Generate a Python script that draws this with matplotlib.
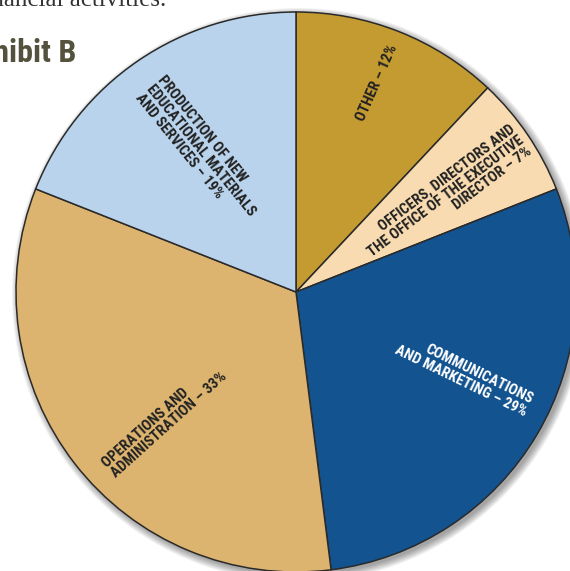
import matplotlib
matplotlib.use("Agg")
import matplotlib.pyplot as plt
import numpy as np
from matplotlib.patches import Circle

# ---- data ----
categories = ["OTHER", "OFFICERS, DIRECTORS AND THE OFFICE OF THE EXECUTIVE DIRECTOR",
              "COMMUNICATIONS AND MARKETING", "OPERATIONS AND ADMINISTRATION",
              "PRODUCTION OF NEW EDUCATIONAL MATERIALS AND SERVICES"]
values = [12, 7, 29, 33, 19]
labels = ["OTHER – 12%",
          "OFFICERS, DIRECTORS AND\nTHE OFFICE OF THE EXECUTIVE\nDIRECTOR – 7%",
          "COMMUNICATIONS\nAND MARKETING – 29%",
          "OPERATIONS AND\nADMINISTRATION – 33%",
          "PRODUCTION OF NEW\nEDUCATIONAL MATERIALS\nAND SERVICES – 19%"]
colors = ["#C49B31", "#F8DBB0", "#13538F", "#DDB46F", "#B9D3EC"]
text_colors = ["#222222", "#222222", "#FFFFFF", "#222222", "#222222"]

# label style: (radius fraction, angle offset inside wedge, rotation, alignment)
label_style = [
    (0.80, 0.3, 66, "center"),
    (0.635, -1.5, 37, "right"),
    (0.67, 4.3, -26, "right"),
    (0.655, 6.5, 42, "left"),
    (0.61, -0.4, -51, "left"),
]

W, H = 570, 571
fig = plt.figure(figsize=(W / 100, H / 100), dpi=100)
ax = fig.add_axes([0, 0, 1, 1])

cx, cy, R = 296, H - 292, 280

# drop shadow
for k in range(8):
    ax.add_patch(Circle((cx + 3, cy - 3), R + k * 1.0, color="#000000",
                        alpha=0.05, lw=0, zorder=0))

wedges, _ = ax.pie(values, colors=colors, startangle=90, counterclock=False,
                   center=(cx, cy), radius=R, frame=True,
                   wedgeprops=dict(edgecolor="#2A2A2A", linewidth=1.1))
ax.set_xlim(0, W)
ax.set_ylim(0, H)
ax.set_aspect("equal")
ax.axis("off")

cond = ["Roboto Condensed", "DejaVu Sans"]
for w, lab, tc, (rf, doff, rot, al) in zip(wedges, labels, text_colors, label_style):
    mid = np.deg2rad((w.theta1 + w.theta2) / 2 + doff)
    x = cx + rf * R * np.cos(mid)
    y = cy + rf * R * np.sin(mid)
    ax.text(x, y, lab, rotation=rot, rotation_mode="anchor", ha="center", va="center",
            multialignment=al, color=tc, fontsize=10.8, fontweight="bold",
            family=cond, linespacing=1.0, zorder=5)

fig.text(76 / W, 1 - 62 / H, "Exhibit B", family=cond, fontweight="bold",
         fontsize=23, color="#54523D", ha="right", va="baseline")
fig.text(166 / W, 1 - 6 / H, "financial activities.", family="Liberation Serif",
         fontsize=18, color="#333333", ha="right", va="baseline")

fig.savefig("out.png", dpi=100)
